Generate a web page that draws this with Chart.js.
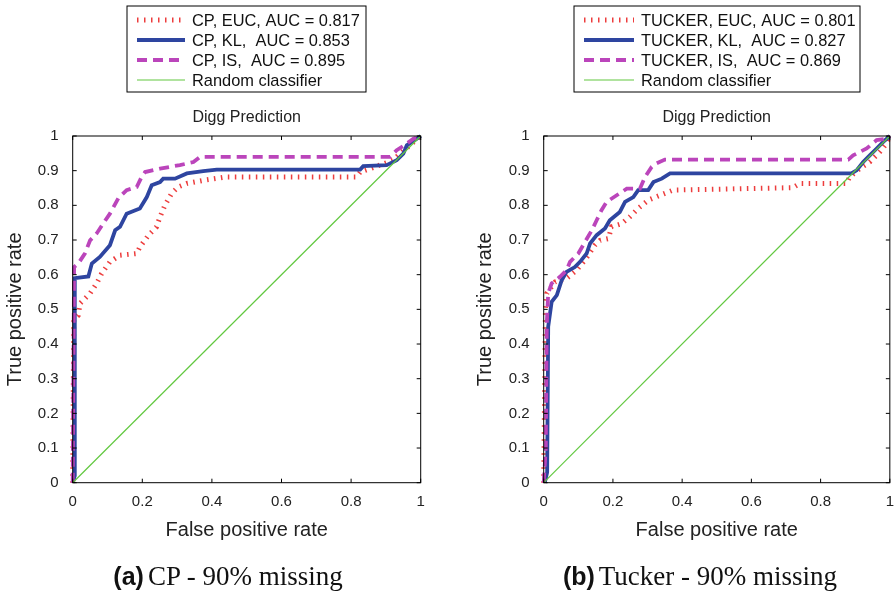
<!DOCTYPE html>
<html>
<head>
<meta charset="utf-8">
<script src="https://cdn.jsdelivr.net/npm/chart.js@4.4.0/dist/chart.umd.min.js"></script>
<style>
  body { margin: 0; background: #fff; width: 896px; height: 591px; overflow: hidden; position: relative; }
  canvas { position: absolute; top: 0; }
  .caption { position: absolute; top: 560px; white-space: nowrap; transform: translateX(-50%); color: #111; line-height: 32px; }
  .caption b { font-family: "Liberation Sans", Arial, sans-serif; font-weight: bold; font-size: 25px; }
  .caption span { font-family: "Liberation Serif", serif; font-size: 27px; }
</style>
</head>
<body>
<canvas id="cpChart" width="448" height="591" style="left:0px"></canvas>
<canvas id="tuckerChart" width="426" height="591" style="left:470px"></canvas>
<div class="caption" style="left:228px"><b>(a)</b> <span>CP - 90% missing</span></div>
<div class="caption" style="left:700px"><b>(b)</b> <span>Tucker - 90% missing</span></div>

<script>
// ticks
var xTickLabels = ['0', '0.2', '0.4', '0.6', '0.8', '1']
var xTickValues = [0, 0.2, 0.4, 0.6, 0.8, 1]
var yTickLabels = ['0', '0.1', '0.2', '0.3', '0.4', '0.5', '0.6', '0.7', '0.8', '0.9', '1']
var yTickValues = [0, 0.1, 0.2, 0.3, 0.4, 0.5, 0.6, 0.7, 0.8, 0.9, 1]

// random classifier
var randX = [0, 1]
var randY = [0, 1]

// CP panel
var cpEucX = [0, 0.003, 0.016, 0.021, 0.05, 0.069, 0.083, 0.107, 0.136, 0.184, 0.193, 0.218, 0.241, 0.251, 0.265, 0.284, 0.303, 0.328, 0.375, 0.442, 0.816, 0.826, 0.883, 0.921, 0.94, 0.969, 1]
var cpEucY = [0, 0.47, 0.483, 0.517, 0.546, 0.575, 0.603, 0.637, 0.656, 0.661, 0.68, 0.714, 0.738, 0.767, 0.8, 0.834, 0.853, 0.863, 0.872, 0.882, 0.882, 0.896, 0.916, 0.93, 0.949, 0.973, 1]
var cpKlX = [0, 0.006, 0.006, 0.045, 0.055, 0.078, 0.107, 0.122, 0.136, 0.155, 0.193, 0.213, 0.227, 0.251, 0.26, 0.294, 0.328, 0.375, 0.414, 0.826, 0.835, 0.902, 0.931, 0.95, 0.96, 0.989, 1]
var cpKlY = [0, 0.02, 0.59, 0.595, 0.632, 0.651, 0.685, 0.728, 0.738, 0.776, 0.791, 0.824, 0.858, 0.867, 0.877, 0.877, 0.892, 0.899, 0.903, 0.903, 0.913, 0.916, 0.93, 0.949, 0.973, 0.992, 1]
var cpIsX = [0, 0.004, 0.016, 0.035, 0.05, 0.069, 0.088, 0.107, 0.131, 0.155, 0.184, 0.198, 0.208, 0.251, 0.308, 0.347, 0.366, 0.912, 0.931, 0.96, 0.979, 1]
var cpIsY = [0, 0.622, 0.632, 0.661, 0.699, 0.719, 0.748, 0.776, 0.82, 0.844, 0.853, 0.882, 0.896, 0.906, 0.916, 0.925, 0.94, 0.94, 0.959, 0.978, 0.992, 1]

// Tucker panel
var tkEucX = [0, 0.005, 0.009, 0.033, 0.066, 0.095, 0.119, 0.148, 0.163, 0.187, 0.196, 0.225, 0.249, 0.273, 0.302, 0.336, 0.374, 0.72, 0.74, 0.875, 0.884, 0.913, 0.942, 0.971, 0.99, 1]
var tkEucY = [0, 0.5, 0.546, 0.579, 0.589, 0.613, 0.642, 0.685, 0.699, 0.704, 0.738, 0.747, 0.767, 0.791, 0.815, 0.829, 0.844, 0.851, 0.863, 0.863, 0.882, 0.906, 0.925, 0.954, 0.978, 1]
var tkKlX = [0.003, 0.01, 0.013, 0.023, 0.038, 0.052, 0.066, 0.09, 0.105, 0.124, 0.134, 0.153, 0.177, 0.191, 0.22, 0.235, 0.259, 0.273, 0.302, 0.317, 0.341, 0.365, 0.889, 0.904, 0.923, 0.942, 0.962, 0.981, 1]
var tkKlY = [0, 0.03, 0.45, 0.522, 0.541, 0.584, 0.608, 0.622, 0.637, 0.661, 0.69, 0.714, 0.733, 0.757, 0.781, 0.81, 0.824, 0.844, 0.844, 0.867, 0.877, 0.892, 0.892, 0.901, 0.925, 0.944, 0.964, 0.983, 1]
var tkIsX = [0, 0.006, 0.009, 0.013, 0.023, 0.047, 0.066, 0.076, 0.1, 0.119, 0.139, 0.153, 0.167, 0.182, 0.211, 0.24, 0.278, 0.293, 0.312, 0.326, 0.35, 0.88, 0.894, 0.933, 0.962, 0.992, 1]
var tkIsY = [0, 0.1, 0.459, 0.546, 0.575, 0.594, 0.613, 0.637, 0.661, 0.694, 0.728, 0.757, 0.786, 0.81, 0.829, 0.848, 0.848, 0.882, 0.911, 0.921, 0.932, 0.932, 0.944, 0.964, 0.988, 0.992, 1]

var cpLabels = ['CP, EUC, AUC = 0.817', 'CP, KL,  AUC = 0.853', 'CP, IS,  AUC = 0.895', 'Random classifier']
var tkLabels = ['TUCKER, EUC, AUC = 0.801', 'TUCKER, KL,  AUC = 0.827', 'TUCKER, IS,  AUC = 0.869', 'Random classifier']

var FONT = '"Liberation Sans", Arial, Helvetica, sans-serif'

function pts(xs, ys) {
    return xs.map(function(x, i) { return {x: x, y: ys[i]} })
}

// draws the MATLAB style box, inward ticks, title and the boxed legend
var matlabBox = {
    id: 'matlabBox',
    afterDatasetsDraw: function(chart, args, opts) {
        var ctx = chart.ctx
        var a = chart.chartArea
        var xs = chart.scales.x
        var ys = chart.scales.y
        ctx.save()
        ctx.strokeStyle = '#000'
        ctx.lineWidth = 1
        ctx.setLineDash([])
        ctx.strokeRect(a.left, a.top, a.right - a.left, a.bottom - a.top)
        ctx.beginPath()
        xs.ticks.forEach(function(t) {
            var p = xs.getPixelForValue(t.value)
            ctx.moveTo(p, a.bottom); ctx.lineTo(p, a.bottom - 4)
            ctx.moveTo(p, a.top); ctx.lineTo(p, a.top + 4)
        })
        ys.ticks.forEach(function(t) {
            var p = ys.getPixelForValue(t.value)
            ctx.moveTo(a.left, p); ctx.lineTo(a.left + 4, p)
            ctx.moveTo(a.right, p); ctx.lineTo(a.right - 4, p)
        })
        ctx.stroke()

        ctx.fillStyle = '#222'
        ctx.font = '16px ' + FONT
        ctx.textAlign = 'center'
        ctx.textBaseline = 'middle'
        ctx.fillText(opts.title, (a.left + a.right) / 2, 118)

        // legend
        ctx.strokeStyle = '#000'
        ctx.lineWidth = 1
        ctx.strokeRect(opts.boxX, 6, opts.boxW, 86)
        ctx.font = '16.4px ' + FONT
        ctx.textAlign = 'left'
        chart.data.datasets.forEach(function(ds, i) {
            var y = 20 + i * 20
            ctx.save()
            ctx.strokeStyle = ds.borderColor
            ctx.lineWidth = ds.borderWidth
            ctx.setLineDash(ds.borderDash || [])
            ctx.lineCap = 'butt'
            ctx.beginPath()
            ctx.moveTo(opts.boxX + 10, y)
            ctx.lineTo(opts.boxX + 10 + opts.sampleW, y)
            ctx.stroke()
            ctx.restore()
            ctx.fillStyle = '#111'
            ctx.fillText(ds.label, opts.boxX + opts.textDx, y + 1)
        })
        ctx.restore()
    }
}

function makeChart(id, labels, eucX, eucY, klX, klY, isX, isY, box) {
    var ctx = document.getElementById(id)
    return new Chart(ctx, {
        type: 'scatter',
        data: {
            datasets: [{
                label: labels[0],
                data: pts(eucX, eucY),
                borderColor: 'rgba(235, 40, 40, 0.9)',
                borderWidth: 5,
                borderDash: [1.5, 5.5],
                order: 3
            }, {
                label: labels[1],
                data: pts(klX, klY),
                borderColor: '#2e45a0',
                borderWidth: 3.8,
                order: 2
            }, {
                label: labels[2],
                data: pts(isX, isY),
                borderColor: '#bb45bb',
                borderWidth: 3.8,
                borderDash: [10, 6],
                order: 1
            }, {
                label: labels[3],
                data: pts(randX, randY),
                borderColor: '#62c840',
                borderWidth: 1.2,
                order: 0
            }].map(function(d) {
                d.showLine = true
                d.pointRadius = 0
                d.tension = 0
                d.clip = 4
                return d
            })
        },
        options: {
            responsive: false,
            animation: false,
            layout: { padding: { top: 136, left: 0, right: box.padRight, bottom: 44.3 } },
            plugins: {
                legend: { display: false },
                tooltip: { enabled: false },
                matlabBox: box
            },
            scales: {
                x: {
                    type: 'linear', min: 0, max: 1,
                    afterBuildTicks: function(s) { s.ticks = xTickValues.map(function(v) { return {value: v} }) },
                    afterFit: function(s) { s.height = 64 },
                    grid: { display: false },
                    border: { display: false },
                    ticks: {
                        padding: 2, color: '#222', font: { family: FONT, size: 15 },
                        callback: function(v, i) { return xTickLabels[i] }
                    },
                    title: { display: true, text: 'False positive rate', color: '#222', font: { family: FONT, size: 20 }, padding: { top: 0, bottom: 4 } }
                },
                y: {
                    type: 'linear', min: 0, max: 1,
                    afterBuildTicks: function(s) { s.ticks = yTickValues.map(function(v) { return {value: v} }) },
                    afterFit: function(s) { s.width = box.yWidth },
                    grid: { display: false },
                    border: { display: false },
                    ticks: {
                        padding: 6, color: '#222', font: { family: FONT, size: 15 },
                        callback: function(v, i) { return yTickLabels[i] }
                    },
                    title: { display: true, text: 'True positive rate', color: '#222', font: { family: FONT, size: 20 }, padding: { top: 3.5, bottom: 0 } }
                }
            }
        },
        plugins: [matlabBox]
    })
}

makeChart('cpChart', cpLabels, cpEucX, cpEucY, cpKlX, cpKlY, cpIsX, cpIsY,
    { title: 'Digg Prediction', boxX: 127, boxW: 239, sampleW: 48, textDx: 65, yWidth: 72.7, padRight: 27.3 })
makeChart('tuckerChart', tkLabels, tkEucX, tkEucY, tkKlX, tkKlY, tkIsX, tkIsY,
    { title: 'Digg Prediction', boxX: 104, boxW: 286, sampleW: 50, textDx: 67, yWidth: 73.7, padRight: 6 })
</script>
</body>
</html>
